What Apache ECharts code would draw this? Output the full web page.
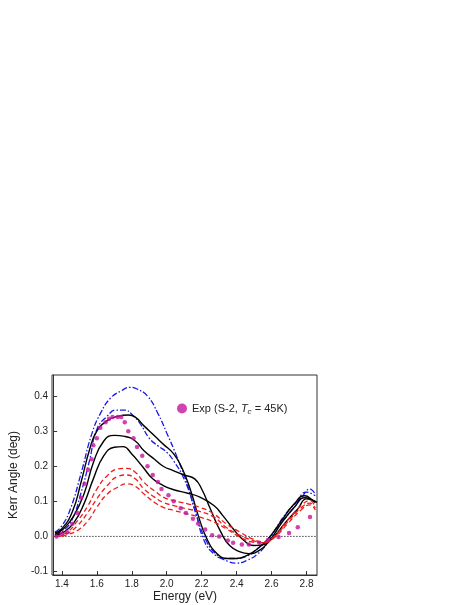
<!DOCTYPE html>
<html><head><meta charset="utf-8">
<script src="https://cdn.jsdelivr.net/npm/echarts@6/dist/echarts.min.js"></script>
<style>html,body{margin:0;padding:0;background:#fff}#c{width:468px;height:605px}</style>
</head><body><div id="c"></div>
<script>
const xTicks=[1.4,1.6,1.8,2.0,2.2,2.4,2.6,2.8];
const yTicks=[-0.1,0,0.1,0.2,0.3,0.4];
const expData=[[1.37,0.0],[1.40,0.007],[1.43,0.012],[1.46,0.036],[1.49,0.067],[1.51,0.11],[1.53,0.15],[1.55,0.19],[1.57,0.22],[1.58,0.26],[1.60,0.28],[1.62,0.31],[1.65,0.325],[1.67,0.335],[1.69,0.34],[1.72,0.34],[1.74,0.34],[1.76,0.325],[1.78,0.30],[1.81,0.28],[1.83,0.255],[1.86,0.23],[1.89,0.2],[1.92,0.175],[1.95,0.155],[1.97,0.135],[2.01,0.117],[2.04,0.1],[2.08,0.08],[2.11,0.067],[2.15,0.05],[2.18,0.037],[2.22,0.02],[2.26,0.003],[2.30,0.0],[2.35,-0.012],[2.38,-0.018],[2.43,-0.023],[2.47,-0.023],[2.53,-0.018],[2.58,-0.01],[2.64,-0.002],[2.70,0.01],[2.75,0.026],[2.82,0.055]];
const blueOuter=[[1.36,0.012],[1.40,0.03],[1.45,0.08],[1.51,0.18],[1.57,0.29],[1.62,0.35],[1.68,0.395],[1.74,0.415],[1.79,0.425],[1.83,0.42],[1.89,0.40],[1.95,0.35],[2.00,0.295],[2.06,0.225],[2.12,0.145],[2.17,0.06],[2.23,-0.016],[2.29,-0.054],[2.35,-0.071],[2.40,-0.076],[2.46,-0.068],[2.52,-0.05],[2.58,-0.016],[2.63,0.027],[2.69,0.07],[2.77,0.11],[2.82,0.135],[2.85,0.12]];
const blueInner=[[1.36,0.005],[1.41,0.017],[1.46,0.05],[1.51,0.125],[1.56,0.22],[1.60,0.305],[1.66,0.343],[1.71,0.36],[1.76,0.36],[1.80,0.348],[1.85,0.32],[1.90,0.28],[1.95,0.258],[2.00,0.24],[2.04,0.215],[2.10,0.163],[2.16,0.079],[2.21,-0.007],[2.27,-0.05],[2.33,-0.063],[2.38,-0.063],[2.46,-0.056],[2.52,-0.035],[2.58,-0.007],[2.65,0.036],[2.73,0.083],[2.80,0.126],[2.85,0.116]];
const black1=[[1.36,0.01],[1.40,0.022],[1.46,0.07],[1.51,0.155],[1.56,0.25],[1.60,0.30],[1.66,0.33],[1.72,0.342],[1.78,0.346],[1.82,0.34],[1.87,0.315],[1.93,0.287],[1.98,0.263],[2.04,0.235],[2.09,0.192],[2.14,0.126],[2.18,0.06],[2.23,-0.007],[2.29,-0.05],[2.35,-0.063],[2.40,-0.063],[2.46,-0.054],[2.52,-0.035],[2.58,-0.007],[2.65,0.04],[2.73,0.093],[2.79,0.116],[2.84,0.102],[2.86,0.097]];
const black2=[[1.36,0.006],[1.41,0.022],[1.47,0.06],[1.53,0.126],[1.58,0.21],[1.64,0.272],[1.70,0.288],[1.76,0.285],[1.82,0.272],[1.87,0.244],[1.93,0.22],[1.98,0.2],[2.04,0.187],[2.10,0.175],[2.16,0.164],[2.20,0.135],[2.25,0.078],[2.31,0.012],[2.36,-0.026],[2.42,-0.044],[2.47,-0.049],[2.53,-0.04],[2.59,-0.011],[2.66,0.04],[2.73,0.083],[2.79,0.11],[2.84,0.102],[2.86,0.097]];
const black3=[[1.36,0.003],[1.41,0.012],[1.47,0.04],[1.53,0.097],[1.58,0.164],[1.64,0.23],[1.70,0.254],[1.75,0.256],[1.80,0.235],[1.86,0.2],[1.92,0.164],[1.98,0.145],[2.04,0.133],[2.12,0.123],[2.19,0.112],[2.27,0.088],[2.32,0.06],[2.38,0.022],[2.44,-0.011],[2.50,-0.026],[2.55,-0.024],[2.61,-0.002],[2.68,0.04],[2.75,0.078],[2.80,0.107],[2.85,0.097]];
const red1=[[1.36,0.0],[1.43,0.012],[1.49,0.045],[1.55,0.088],[1.60,0.135],[1.66,0.173],[1.72,0.192],[1.77,0.194],[1.82,0.183],[1.87,0.154],[1.93,0.13],[1.98,0.112],[2.04,0.102],[2.12,0.093],[2.19,0.083],[2.27,0.064],[2.34,0.036],[2.42,0.012],[2.49,-0.007],[2.55,-0.016],[2.61,-0.002],[2.69,0.045],[2.77,0.088],[2.82,0.102],[2.85,0.083]];
const red2=[[1.38,0.0],[1.43,0.008],[1.49,0.031],[1.55,0.069],[1.60,0.107],[1.66,0.145],[1.72,0.171],[1.77,0.175],[1.82,0.164],[1.87,0.135],[1.93,0.112],[1.98,0.097],[2.04,0.088],[2.12,0.078],[2.19,0.071],[2.27,0.055],[2.34,0.026],[2.42,0.003],[2.49,-0.011],[2.55,-0.018],[2.61,-0.004],[2.69,0.04],[2.77,0.082],[2.82,0.095],[2.85,0.08]];
const red3=[[1.40,0.0],[1.43,0.005],[1.49,0.017],[1.55,0.045],[1.60,0.083],[1.66,0.121],[1.72,0.14],[1.77,0.15],[1.82,0.143],[1.87,0.121],[1.93,0.097],[1.98,0.083],[2.04,0.074],[2.12,0.064],[2.19,0.055],[2.27,0.041],[2.34,0.022],[2.42,-0.002],[2.49,-0.016],[2.55,-0.018],[2.61,-0.006],[2.69,0.035],[2.77,0.076],[2.82,0.09],[2.85,0.075]];

const F='Liberation Sans, Arial, sans-serif';
function ln(data,color,type,w){return {type:'line',data:data,smooth:true,symbol:'none',lineStyle:{color:color,width:w||1.3,type:type},silent:true,z:2};}
const blueDash=[6,2,1.5,2];
const chart=echarts.init(document.getElementById('c'),null,{renderer:'canvas'});
chart.setOption({
  animation:false,
  grid:{left:52,right:151,top:375,bottom:30},
  legend:{data:['Exp'],left:172,top:398,icon:'circle',itemWidth:10,itemHeight:10,itemGap:4,
    formatter:()=>'{a|Exp (S-2, }{i|T}{s|c}{a| = 45K)}',
    textStyle:{rich:{a:{fontFamily:F,fontSize:11,color:'#222'},i:{fontFamily:F,fontSize:11,fontStyle:'italic',color:'#222'},s:{fontFamily:F,fontSize:8,fontStyle:'italic',color:'#222',verticalAlign:'bottom',padding:[6,0,0,0]}}}},
  xAxis:{type:'value',min:1.35,max:2.86,name:'Energy (eV)',nameLocation:'middle',nameGap:16,
    nameTextStyle:{fontFamily:F,fontSize:12,color:'#222'},
    axisLine:{onZero:false,lineStyle:{color:'#333'}},
    axisTick:{inside:true,length:4,customValues:xTicks,lineStyle:{color:'#333'}},
    minorTick:{show:false},
    axisLabel:{customValues:xTicks,fontFamily:F,fontSize:10,color:'#222',margin:4,formatter:v=>v.toFixed(1)},
    splitLine:{show:false}},
  yAxis:{type:'value',min:-0.11,max:0.46,name:'Kerr Angle (deg)',nameLocation:'middle',nameGap:30,
    nameTextStyle:{fontFamily:F,fontSize:12,color:'#222'},
    axisLine:{show:true,onZero:false,lineStyle:{color:'#333'}},
    axisTick:{show:true,inside:true,length:4,customValues:yTicks,lineStyle:{color:'#333'}},
    axisLabel:{customValues:yTicks,fontFamily:F,fontSize:10,color:'#222',margin:5,formatter:v=>v.toFixed(1)},
    splitLine:{show:false}},
  graphic:[{type:'rect',shape:{x:52,y:375,width:265,height:200},style:{fill:'none',stroke:'#333',lineWidth:1},silent:true,z:100}],
  series:[
    {type:'line',data:[[1.35,0],[2.86,0]],symbol:'none',lineStyle:{color:'#444',width:1,type:[1.5,1.5]},silent:true,z:1},
    ln(blueOuter,'#1a1ae6',blueDash),ln(blueInner,'#1a1ae6',blueDash),
    ln(black1,'#000','solid',1.4),ln(black2,'#000','solid',1.4),ln(black3,'#000','solid',1.4),
    ln(red1,'#ee1c1c',[5,3]),ln(red2,'#ee1c1c',[5,3]),ln(red3,'#ee1c1c',[5,3]),
    {name:'Exp',type:'scatter',data:expData,symbol:'circle',symbolSize:4.5,itemStyle:{color:'#c8149b'},z:5}
  ]
});
</script></body></html>
